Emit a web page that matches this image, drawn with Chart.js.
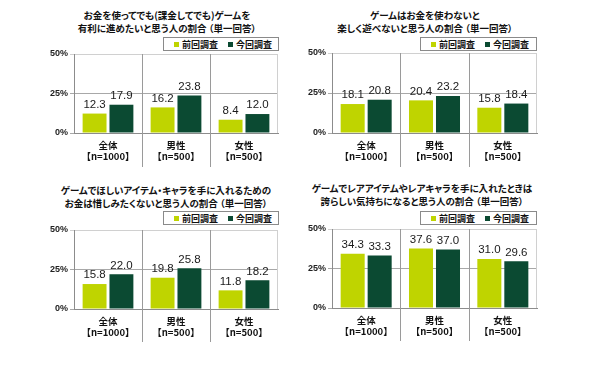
<!DOCTYPE html>
<html><head><meta charset="utf-8">
<script src="https://cdn.jsdelivr.net/npm/chart.js@4"></script>
<style>
html,body{margin:0;padding:0;background:#fff;}
body{width:600px;height:385px;position:relative;overflow:hidden;font-family:"Noto Sans CJK JP",sans-serif;}
.ttl{position:absolute;width:260px;text-align:center;font-weight:bold;font-size:9.5px;line-height:13px;color:#111;font-feature-settings:"palt";white-space:nowrap;}
.lg{position:absolute;height:14px;border:1px solid #8a8a8a;background:#fff;font-weight:bold;font-size:9px;line-height:14px;color:#111;font-feature-settings:"palt";box-sizing:border-box;}
.lg span.it{position:absolute;top:0;}
.lg i{display:inline-block;width:5px;height:5px;margin-right:3px;vertical-align:1px;}
.cv{position:absolute;}
</style></head><body>
<script>
const categories = [['全体','【n=1000】'],['男性','【n=500】'],['女性','【n=500】']];
const seriesNames = ['前回調査','今回調査'];
const titles = [
  ['お金を使ってでも(課金してでも)ゲームを','有利に進めたいと思う人の割合 （単一回答）'],
  ['ゲームはお金を使わないと','楽しく遊べないと思う人の割合 （単一回答）'],
  ['ゲームでほしいアイテム・キャラを手に入れるための','お金は惜しみたくないと思う人の割合 （単一回答）'],
  ['ゲームでレアアイテムやレアキャラを手に入れたときは','誇らしい気持ちになると思う人の割合 （単一回答）']
];
const prev1 = [12.3, 16.2, 8.4],  curr1 = [17.9, 23.8, 12.0];
const prev2 = [18.1, 20.4, 15.8], curr2 = [20.8, 23.2, 18.4];
const prev3 = [15.8, 19.8, 11.8], curr3 = [22.0, 25.8, 18.2];
const prev4 = [34.3, 37.6, 31.0], curr4 = [33.3, 37.0, 29.6];
const yTicks = [0, 25, 50];

const colors = ['#bfd400', '#0b4a32'];
const panels = [
  {px:0,   l:74,  r:278, t:54,  b:133, tx:167, ty:8.5,  lg:[163,37,116], sepDown:34, prev:prev1, curr:curr1},
  {px:300, l:332, r:537, t:53,  b:133, tx:425, ty:8.5,  lg:[420,37,117], sepDown:34, prev:prev2, curr:curr2},
  {px:0,   l:74,  r:278, t:230, b:309, tx:166, ty:183.5,lg:[163,211,116], sepDown:33, prev:prev3, curr:curr3},
  {px:300, l:332, r:537, t:229, b:308, tx:422, ty:181.5,lg:[420,211,117], sepDown:33, prev:prev4, curr:curr4}
];

const valueLabels = {
  id:'valueLabels',
  afterDatasetsDraw(chart){
    const ctx = chart.ctx;
    ctx.save();
    ctx.font = '11.5px "Liberation Sans", Arial, sans-serif';
    ctx.fillStyle = '#1a1a1a';
    ctx.textAlign = 'center';
    ctx.textBaseline = 'bottom';
    chart.data.datasets.forEach((ds, di) => {
      chart.getDatasetMeta(di).data.forEach((el, i) => {
        ctx.fillText(ds.data[i].toFixed(1), el.x, el.y - 3);
      });
    });
    ctx.restore();
  }
};
const separators = {
  id:'separators',
  beforeDatasetsDraw(chart, args, opts){
    const ctx = chart.ctx, x = chart.scales.x, a = chart.chartArea;
    ctx.save();
    ctx.lineWidth = 1;
    ctx.strokeStyle = '#9a9a9a';
    for (let i = 0; i < categories.length - 1; i++) {
      const px = Math.round((x.getPixelForValue(i) + x.getPixelForValue(i + 1)) / 2) + 0.5;
      ctx.beginPath(); ctx.moveTo(px, a.top); ctx.lineTo(px, a.bottom + opts.down); ctx.stroke();
    }
    ctx.strokeStyle = '#d0d0d0';
    ctx.beginPath(); ctx.moveTo(a.right - 0.5, a.top); ctx.lineTo(a.right - 0.5, a.bottom); ctx.stroke();
    ctx.restore();
  }
};

panels.forEach((p, k) => {
  const t = document.createElement('div');
  t.className = 'ttl';
  t.style.left = (p.tx - 130) + 'px';
  t.style.top = p.ty + 'px';
  t.innerHTML = titles[k].join('<br>');
  document.body.appendChild(t);

  const lg = document.createElement('div');
  lg.className = 'lg';
  lg.style.left = p.lg[0] + 'px'; lg.style.top = p.lg[1] + 'px'; lg.style.width = p.lg[2] + 'px';
  lg.innerHTML = '<span class="it" style="left:10px"><i style="background:' + colors[0] + '"></i>' + seriesNames[0] + '</span>' +
                 '<span class="it" style="left:64px"><i style="background:' + colors[1] + '"></i>' + seriesNames[1] + '</span>';
  document.body.appendChild(lg);

  const padTop = 14, xH = 47;
  const W = 300, H = padTop + (p.b - p.t) + xH;
  const wrap = document.createElement('div');
  wrap.className = 'cv';
  wrap.style.left = p.px + 'px'; wrap.style.top = (p.t - padTop) + 'px';
  wrap.style.width = W + 'px'; wrap.style.height = H + 'px';
  const cv = document.createElement('canvas');
  wrap.appendChild(cv);
  document.body.appendChild(wrap);

  new Chart(cv, {
    type:'bar',
    data:{
      labels: categories,
      datasets:[
        {label:seriesNames[0], data:p.prev, backgroundColor:colors[0]},
        {label:seriesNames[1], data:p.curr, backgroundColor:colors[1]}
      ]
    },
    options:{
      responsive:true, maintainAspectRatio:false, animation:false,
      devicePixelRatio:1,
      categoryPercentage:0.79, barPercentage:0.89,
      layout:{padding:{top:padTop, right:p.px + 300 - p.r, left:0, bottom:0}},
      plugins:{legend:{display:false}, tooltip:{enabled:false}, separators:{down:p.sepDown}},
      scales:{
        x:{
          grid:{display:false, drawTicks:false},
          border:{display:true, color:'#8c8c8c'},
          ticks:{padding:6, color:'#111', font:{family:'"Noto Sans CJK JP", sans-serif', size:9.5, weight:'bold', lineHeight:1.25}, maxRotation:0, autoSkip:false},
          afterFit(s){ s.height = xH; }
        },
        y:{
          min:0, max:50,
          afterBuildTicks(s){ s.ticks = yTicks.map(v => ({value:v})); },
          grid:{color:(c) => c.tick && c.tick.value === 50 ? '#d0d0d0' : '#a8a8a8', tickLength:4, drawTicks:true},
          border:{display:true, color:'#8c8c8c'},
          ticks:{padding:2, color:'#222', font:{family:'"Liberation Sans", Arial, sans-serif', size:9, weight:'bold'}, callback:(v) => v + '%'},
          afterFit(s){ s.width = p.l - p.px; }
        }
      }
    },
    plugins:[valueLabels, separators]
  });
});
</script>
</body></html>
